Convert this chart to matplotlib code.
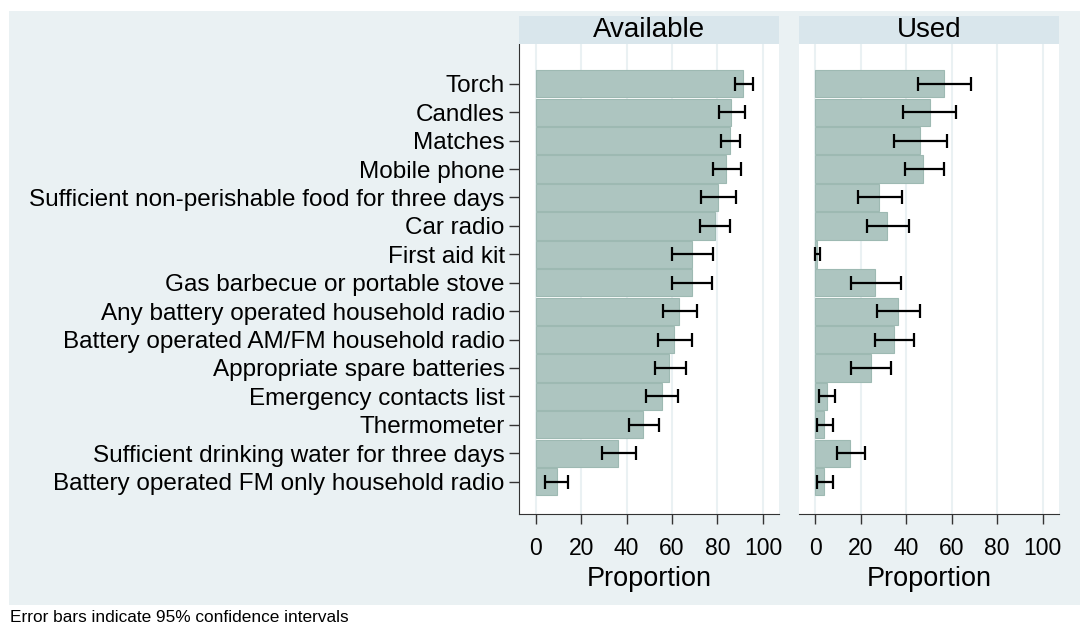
import matplotlib
matplotlib.use("Agg")
import matplotlib.pyplot as plt
from matplotlib.patches import Rectangle
import numpy as np

plt.rcParams['font.family'] = ['Liberation Sans', 'DejaVu Sans']

items = ['Torch', 'Candles', 'Matches', 'Mobile phone',
         'Sufficient non-perishable food for three days', 'Car radio',
         'First aid kit', 'Gas barbecue or portable stove',
         'Any battery operated household radio',
         'Battery operated AM/FM household radio',
         'Appropriate spare batteries', 'Emergency contacts list',
         'Thermometer', 'Sufficient drinking water for three days',
         'Battery operated FM only household radio']

avail = [91.1, 86.0, 85.3, 83.7, 80.2, 78.8, 68.7, 68.7, 63.1, 60.8, 58.6, 55.5, 47.2, 36.2, 9.2]
avail_lo = [87.8, 80.7, 81.5, 78.0, 72.8, 72.1, 59.9, 59.8, 56.0, 54.0, 52.3, 48.6, 41.1, 29.3, 3.9]
avail_hi = [95.8, 91.9, 90.0, 90.3, 88.1, 85.7, 78.0, 77.6, 70.9, 68.6, 66.1, 62.8, 54.3, 44.1, 14.4]

used = [56.6, 50.3, 45.9, 47.4, 28.0, 31.5, 0.5, 26.1, 36.2, 34.5, 24.4, 5.0, 3.8, 15.1, 3.8]
used_lo = [45.3, 38.7, 34.6, 39.3, 18.9, 22.7, 0.0, 15.6, 27.0, 26.4, 15.6, 1.8, 0.7, 9.7, 0.7]
used_hi = [68.4, 62.0, 57.8, 56.6, 38.3, 41.1, 2.2, 37.8, 45.9, 43.6, 33.4, 8.8, 7.8, 22.0, 7.8]

panels = ['Available', 'Used']
xticks = [0, 20, 40, 60, 80, 100]

bg = '#EAF1F3'
strip = '#D9E6EC'
bar_col = '#ADC5C0'
bar_edge = '#9DB9B2'

fig = plt.figure(figsize=(10.8, 6.25), dpi=100)
fig.patches.append(Rectangle((0.008, 0.032), 0.992, 0.95, transform=fig.transFigure,
                             facecolor=bg, edgecolor='none', zorder=-10))

W, H = 1080, 625
ax_lefts = [519.3 / W, 799 / W]
ax_w = 260 / W
ax_bottom = 1 - 513.5 / H
ax_top = 1 - 44 / H
strip_top = 1 - 16.5 / H

ypos = np.arange(len(items))
data = [(avail, avail_lo, avail_hi), (used, used_lo, used_hi)]

for k, (name, (vals, lo, hi)) in enumerate(zip(panels, data)):
  ax = fig.add_axes([ax_lefts[k], ax_bottom, ax_w, ax_top - ax_bottom])
  ax.set_facecolor('white')
  for g in xticks:
    ax.axvline(g, color=bg, lw=1.5, zorder=0)
  ax.barh(ypos, vals, height=0.96, color=bar_col, edgecolor=bar_edge, linewidth=0.8, zorder=2)
  vals_a = np.array(vals)
  err = [vals_a - np.array(lo), np.array(hi) - vals_a]
  ax.errorbar(vals, ypos, xerr=err, fmt='none', ecolor='black', elinewidth=1.6,
              capsize=4.8, capthick=1.6, zorder=3)
  ax.set_xlim(-7.2, 107.2)
  ax.set_ylim(15.12, -1.40)
  ax.set_xticks(xticks)
  ax.tick_params(axis='x', labelsize=16.5, length=7, width=1, color='#333333', pad=10)
  ax.set_xlabel('Proportion', fontsize=19.5, labelpad=4.5)
  for s in ['top', 'right']:
    ax.spines[s].set_visible(False)
  ax.spines['bottom'].set_color('#333333')
  if k == 0:
    ax.set_yticks(ypos)
    ax.set_yticklabels(items, fontsize=17.5)
    ax.tick_params(axis='y', length=7, width=1, color='#333333', pad=3.5)
    ax.spines['left'].set_color('#333333')
  else:
    ax.set_yticks([])
    ax.spines['left'].set_visible(False)

  # panel header strip
  fig.patches.append(Rectangle((ax_lefts[k], ax_top), ax_w, strip_top - ax_top,
                               transform=fig.transFigure, facecolor=strip,
                               edgecolor='none', zorder=1))
  fig.text(ax_lefts[k] + ax_w / 2, (ax_top + strip_top) / 2, name,
           ha='center', va='center', fontsize=20)

fig.text(10 / W, 1 - 618 / H, 'Error bars indicate 95% confidence intervals',
         ha='left', va='center', fontsize=12.4)

fig.savefig('out.png', dpi=100, facecolor='white')
